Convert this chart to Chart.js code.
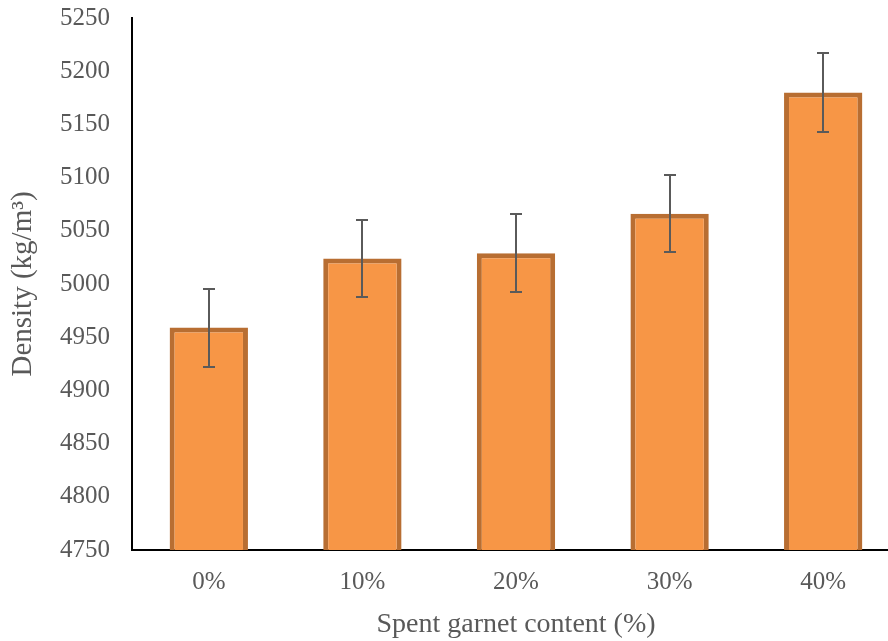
<!DOCTYPE html>
<html>
<head>
<meta charset="utf-8">
<script src="https://cdn.jsdelivr.net/npm/chart.js@4.4.1/dist/chart.umd.min.js"></script>
<style>
  html, body { margin: 0; padding: 0; background: #ffffff; overflow: hidden; }
  #wrap { position: relative; width: 900px; height: 641px; }
</style>
</head>
<body>
<div id="wrap"><canvas id="chart" width="900" height="641"></canvas></div>
<script>
// Density of mixes by spent garnet content
const categories = ['0%', '10%', '20%', '30%', '40%'];
const density = [4959, 5024, 5029, 5066, 5180];
const densityError = [36.7, 36.5, 36.5, 36.3, 37];
const yTicks = [4750, 4800, 4850, 4900, 4950, 5000, 5050, 5100, 5150, 5200, 5250];

const FONT = "'Liberation Serif', 'DejaVu Serif', serif";
const TEXT = '#595959';

// Draws symmetric error bars with caps using the chart's own scales
const errorBars = {
  id: 'errorBars',
  afterDatasetsDraw(chart) {
    const ctx = chart.ctx;
    const meta = chart.getDatasetMeta(0);
    const y = chart.scales.y;
    ctx.save();
    ctx.strokeStyle = '#5a5a5a';
    ctx.lineWidth = 2;
    meta.data.forEach((bar, i) => {
      const v = density[i], e = densityError[i];
      const yTop = Math.round(y.getPixelForValue(v + e));
      const yBot = Math.round(y.getPixelForValue(v - e));
      const x = Math.round(bar.x);
      const cap = 6;
      ctx.beginPath();
      ctx.moveTo(x, yTop); ctx.lineTo(x, yBot);
      ctx.moveTo(x - cap, yTop); ctx.lineTo(x + cap, yTop);
      ctx.moveTo(x - cap, yBot); ctx.lineTo(x + cap, yBot);
      ctx.stroke();
    });
    ctx.restore();
  }
};

new Chart(document.getElementById('chart'), {
  type: 'bar',
  data: {
    labels: categories,
    datasets: [{
      data: density,
      backgroundColor: '#F79646',
      borderColor: '#B86E32',
      borderWidth: 5,
      borderSkipped: false,
      barPercentage: 0.51,
      categoryPercentage: 1.0
    }]
  },
  options: {
    responsive: false,
    animation: false,
    devicePixelRatio: 1,
    layout: { padding: { top: 18, left: 0, right: 0, bottom: 0 } },
    plugins: { legend: { display: false }, tooltip: { enabled: false } },
    scales: {
      x: {
        offset: true,
        grid: { display: false, drawTicks: false },
        border: { display: true, color: '#000000', width: 2 },
        ticks: { color: TEXT, font: { family: FONT, size: 25 }, padding: 17 },
        title: {
          display: true, text: 'Spent garnet content (%)',
          color: TEXT, font: { family: FONT, size: 28 }, padding: { top: 6, bottom: 0 }
        },
        afterFit(scale) { scale.height = 91; scale.paddingLeft = 0; scale.paddingRight = 0; }
      },
      y: {
        min: 4750, max: 5250,
        afterBuildTicks(scale) { scale.ticks = yTicks.map(v => ({ value: v })); },
        grid: { display: false, drawTicks: false },
        border: { display: true, color: '#000000', width: 2 },
        ticks: {
          color: TEXT, font: { family: FONT, size: 25 }, padding: 22,
          callback: (v) => String(v)
        },
        title: {
          display: true, text: 'Density (kg/m³)',
          color: TEXT, font: { family: FONT, size: 29 }, padding: { top: 6, bottom: 0 }
        },
        afterFit(scale) { scale.width = 132; scale.paddingTop = 0; scale.paddingBottom = 0; }
      }
    }
  },
  plugins: [errorBars]
});
</script>
</body>
</html>
